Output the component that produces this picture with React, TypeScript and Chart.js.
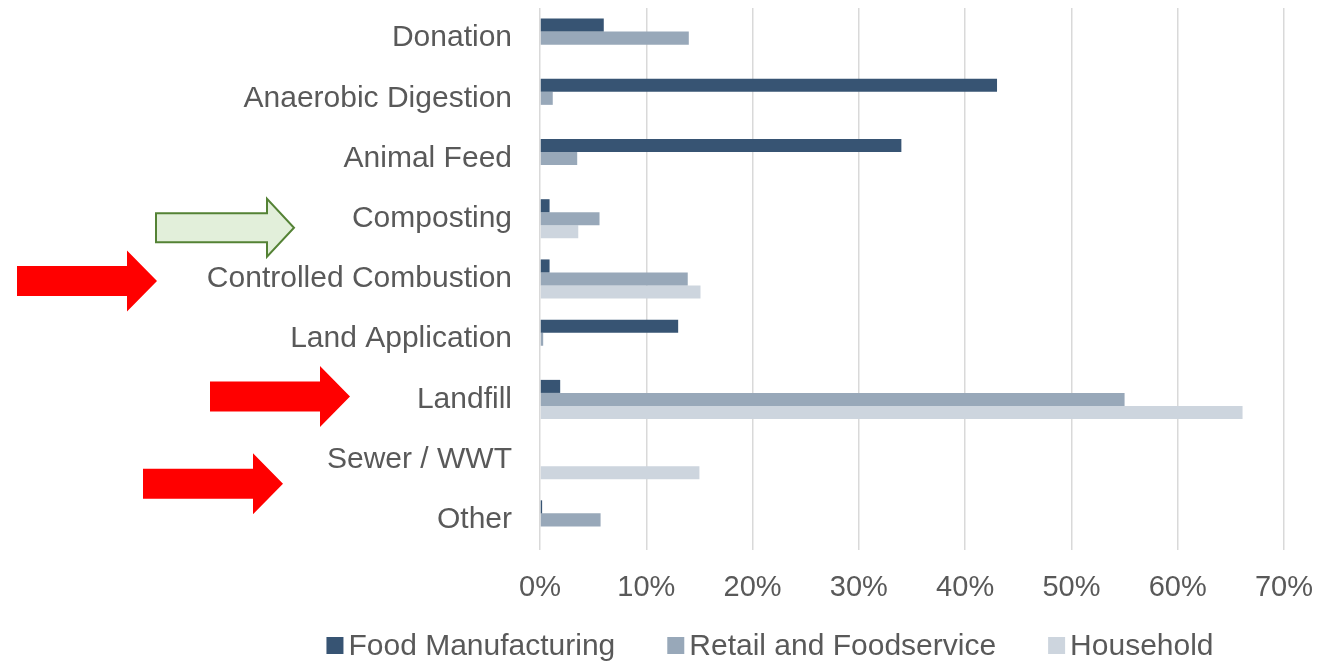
import React, { useEffect, useRef } from "react";
import { Chart, registerables } from "chart.js";

Chart.register(...registerables);

const categories = [
  "Donation",
  "Anaerobic Digestion",
  "Animal Feed",
  "Composting",
  "Controlled Combustion",
  "Land Application",
  "Landfill",
  "Sewer / WWT",
  "Other",
];
const seriesNames = ["Food Manufacturing", "Retail and Foodservice", "Household"];
const foodManufacturing = [6, 43, 34, 0.9, 0.9, 13, 1.9, 0, 0.2];
const retailFoodservice = [14, 1.2, 3.5, 5.6, 13.9, 0.3, 55, 0, 5.7];
const household = [0, 0, 0, 3.6, 15.1, 0, 66.1, 15, 0];
const seriesColors = ["#375473", "#98a8b9", "#cdd5de"];
const xTickValues = [0, 10, 20, 30, 40, 50, 60, 70];

const arrowNotes = [
  { category: "Composting", tailX: 156, tipX: 294, dy: 9, bodyH: 29, headH: 58, headLen: 27, fill: "#e2efda", stroke: "#548235" },
  { category: "Controlled Combustion", tailX: 17, tipX: 157, dy: 2, bodyH: 30, headH: 61, headLen: 30, fill: "#ff0000", stroke: "" },
  { category: "Landfill", tailX: 210, tipX: 350, dy: -3, bodyH: 30, headH: 61, headLen: 30, fill: "#ff0000", stroke: "" },
  { category: "Sewer / WWT", tailX: 143, tipX: 283, dy: 24, bodyH: 30, headH: 61, headLen: 30, fill: "#ff0000", stroke: "" },
];

const FONT = '"Liberation Sans", Arial, sans-serif';
const TEXT = "#595959";

const decorPlugin = {
  id: "decor",
  afterDraw(chart: any) {
    const ctx = chart.ctx;
    const yScale = chart.scales.y;
    arrowNotes.forEach((a) => {
      const idx = categories.indexOf(a.category);
      const cy = yScale.getPixelForValue(idx) + a.dy;
      const headX = a.tipX - a.headLen;
      ctx.save();
      ctx.beginPath();
      ctx.moveTo(a.tailX, cy - a.bodyH / 2);
      ctx.lineTo(headX, cy - a.bodyH / 2);
      ctx.lineTo(headX, cy - a.headH / 2);
      ctx.lineTo(a.tipX, cy);
      ctx.lineTo(headX, cy + a.headH / 2);
      ctx.lineTo(headX, cy + a.bodyH / 2);
      ctx.lineTo(a.tailX, cy + a.bodyH / 2);
      ctx.closePath();
      ctx.fillStyle = a.fill;
      ctx.fill();
      if (a.stroke) {
        ctx.strokeStyle = a.stroke;
        ctx.lineWidth = 2;
        ctx.lineJoin = "miter";
        ctx.stroke();
      }
      ctx.restore();
    });
    ctx.save();
    ctx.font = `30px ${FONT}`;
    const box = 17;
    const gap = 5;
    const itemGap = 52;
    const widths = chart.data.datasets.map((d: any) => ctx.measureText(d.label).width);
    const total = widths.reduce((s: number, w: number) => s + box + gap + w, 0) + itemGap * (widths.length - 1);
    let x = 770 - total / 2;
    const baseline = 655;
    chart.data.datasets.forEach((d: any, i: number) => {
      ctx.fillStyle = d.backgroundColor;
      ctx.fillRect(x, baseline - 18, box, box);
      ctx.fillStyle = TEXT;
      ctx.textBaseline = "alphabetic";
      ctx.textAlign = "left";
      ctx.fillText(d.label, x + box + gap, baseline);
      x += box + gap + widths[i] + itemGap;
    });
    ctx.restore();
  },
};

export default function App() {
  const canvasRef = useRef<HTMLCanvasElement | null>(null);

  useEffect(() => {
    if (!canvasRef.current) return;
    const values = [foodManufacturing, retailFoodservice, household];
    const chart = new Chart(canvasRef.current, {
      type: "bar",
      data: {
        labels: categories,
        datasets: seriesNames.map((name, i) => ({
          label: name,
          data: values[i],
          backgroundColor: seriesColors[i],
          borderWidth: 0,
          categoryPercentage: 0.65,
          barPercentage: 1.0,
        })),
      },
      options: {
        indexAxis: "y",
        animation: false,
        responsive: true,
        maintainAspectRatio: false,
        layout: { padding: { top: 8, right: 34, bottom: 0, left: 0 } },
        plugins: {
          legend: { display: false },
          tooltip: { enabled: false },
          title: { display: false },
        },
        scales: {
          x: {
            min: 0,
            max: 70,
            afterBuildTicks: (scale: any) => {
              scale.ticks = xTickValues.map((v) => ({ value: v }));
            },
            afterFit: (scale: any) => {
              scale.height = 111;
              scale.paddingLeft = 0;
              scale.paddingRight = 0;
            },
            grid: { color: "#d9d9d9", lineWidth: 1.5, drawTicks: false },
            border: { display: false },
            ticks: {
              padding: 21,
              color: TEXT,
              font: { family: FONT, size: 29 },
              maxRotation: 0,
              callback: (v: any) => `${v}%`,
            },
          },
          y: {
            afterFit: (scale: any) => {
              scale.width = 540;
              scale.paddingTop = 0;
              scale.paddingBottom = 0;
            },
            grid: { display: false, drawTicks: false },
            border: { display: false },
            ticks: {
              padding: 28,
              color: TEXT,
              font: { family: FONT, size: 30 },
            },
          },
        },
      },
      plugins: [decorPlugin],
    });
    return () => chart.destroy();
  }, []);

  return (
    <div style={{ position: "absolute", left: 0, top: 0, width: 1318, height: 661, background: "#ffffff" }}>
      <canvas ref={canvasRef} />
    </div>
  );
}
